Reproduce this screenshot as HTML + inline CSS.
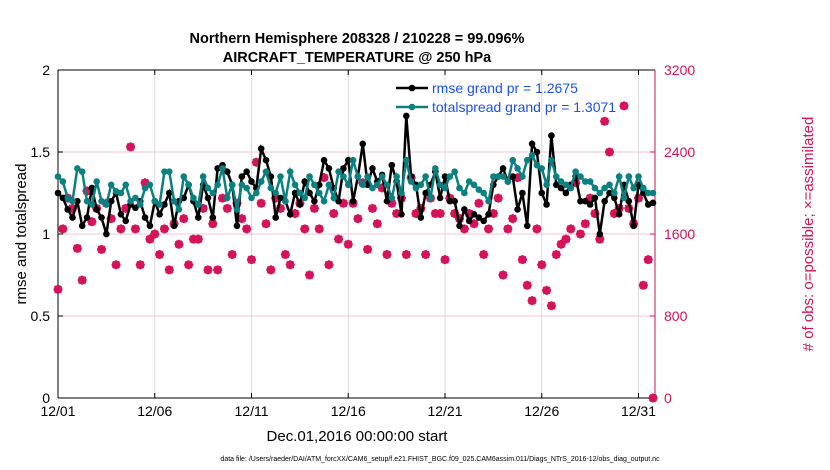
<!DOCTYPE html>
<html><head><meta charset="utf-8"><style>
body{margin:0;background:#fff;}
svg{display:block;font-family:"Liberation Sans",sans-serif;}
</style></head><body>
<svg id="chart" width="830" height="470">
<text x="357" y="43" text-anchor="middle" font-size="14.5" font-weight="bold">Northern Hemisphere 208328 / 210228 = 99.096%</text>
<text x="357" y="62" text-anchor="middle" font-size="14.5" font-weight="bold">AIRCRAFT_TEMPERATURE @ 250 hPa</text>
<g id="grid"></g>
<g id="axes"></g>
<g id="marks"></g>
<text transform="translate(26,234) rotate(-90)" text-anchor="middle" font-size="15">rmse and totalspread</text>
<text transform="translate(813,234) rotate(-90)" text-anchor="middle" font-size="15" fill="#d6125a"># of obs: o=possible; ×=assimilated</text>
<text x="357" y="441" text-anchor="middle" font-size="15">Dec.01,2016 00:00:00 start</text>
<text x="440" y="461" text-anchor="middle" font-size="7">data file: /Users/raeder/DAI/ATM_forcXX/CAM6_setup/f.e21.FHIST_BGC.f09_025.CAM6assim.011/Diags_NTrS_2016-12/obs_diag_output.nc</text>
</svg>
<script>
const xTickLabels=["12/01","12/06","12/11","12/16","12/21","12/26","12/31"];
const xTickDays=[0,5,10,15,20,25,30];
const yTicks=[0,0.5,1,1.5,2];
const y2Ticks=[0,800,1600,2400,3200];
const rmse=[1.25,1.22,1.15,1.1,1.2,1.05,1.1,1.28,1.15,1.1,1.0,1.2,1.25,1.12,1.08,1.18,1.16,1.2,1.1,1.05,1.2,1.12,1.18,1.25,1.05,1.2,1.22,1.3,1.2,1.1,1.3,1.22,1.1,1.4,1.42,1.38,1.3,1.05,1.35,1.38,1.32,1.28,1.52,1.45,1.35,1.1,1.22,1.2,1.12,1.25,1.18,1.32,1.25,1.2,1.3,1.45,1.4,1.28,1.2,1.4,1.45,1.2,1.35,1.55,1.3,1.4,1.32,1.36,1.2,1.42,1.32,1.12,1.72,1.35,1.3,1.1,1.25,1.3,1.38,1.22,1.35,1.2,1.2,1.05,1.15,1.08,1.12,1.1,1.08,1.12,1.3,1.35,1.4,1.32,1.35,1.15,1.25,1.05,1.55,1.5,1.25,1.18,1.6,1.3,1.28,1.25,1.3,1.35,1.2,1.2,1.18,1.22,1.0,1.2,1.25,1.22,1.12,1.3,1.2,1.05,1.3,1.25,1.18,1.19];
const spread=[1.35,1.32,1.22,1.2,1.4,1.38,1.2,1.18,1.32,1.2,1.18,1.3,1.26,1.25,1.3,1.2,1.22,1.18,1.28,1.3,1.2,1.18,1.38,1.38,1.2,1.15,1.35,1.3,1.22,1.18,1.35,1.28,1.25,1.3,1.4,1.22,1.3,1.15,1.3,1.28,1.22,1.25,1.32,1.38,1.28,1.25,1.35,1.2,1.38,1.3,1.25,1.22,1.35,1.3,1.25,1.2,1.3,1.22,1.38,1.35,1.3,1.45,1.35,1.3,1.35,1.28,1.3,1.35,1.3,1.22,1.35,1.25,1.45,1.32,1.28,1.3,1.35,1.22,1.4,1.3,1.28,1.35,1.38,1.28,1.25,1.32,1.3,1.27,1.25,1.2,1.35,1.35,1.35,1.32,1.45,1.4,1.35,1.45,1.48,1.42,1.4,1.3,1.45,1.35,1.32,1.3,1.28,1.38,1.35,1.32,1.32,1.28,1.25,1.28,1.3,1.25,1.35,1.22,1.35,1.28,1.35,1.28,1.25,1.25];
const obsCount=[1060,1650,1950,1850,1460,1150,2020,1720,1850,1450,1900,1750,1300,1650,1850,2450,1650,1300,2100,1550,1600,1400,1650,1250,1700,1500,1750,1300,1550,1550,1850,1250,1700,1250,1950,1850,1400,1900,1750,1650,1350,2300,1900,1700,1250,1950,1850,1400,1300,1800,1900,1650,1200,1850,1650,2150,1300,1800,1550,1900,1500,1900,1750,2100,1450,1850,1700,2050,1400,1900,1800,1950,1400,2150,1800,1850,1400,1950,1800,1800,1350,1950,1800,1750,1650,1800,1700,1900,1400,1650,1800,1950,1200,1650,1750,2150,1350,1100,950,1650,1300,1050,900,1400,1500,1550,1650,2100,1600,1700,1950,1800,1550,2700,2400,1800,1850,2850,1850,1700,1950,1100,1350,0];
const stepDays=0.25;
const L=58,R=655,T=70,B=398;
const xs=d=>L+d*19.35;
const ys=v=>B-(v/2)*(B-T);
const ys2=v=>B-(v/3200)*(B-T);
const NS="http://www.w3.org/2000/svg";
function mk(tag,attrs,parent){const e=document.createElementNS(NS,tag);for(const k in attrs)e.setAttribute(k,attrs[k]);parent.appendChild(e);return e;}
const grid=document.getElementById('grid'),axes=document.getElementById('axes'),marks=document.getElementById('marks');
xTickDays.forEach((d,i)=>{
 const gl=mk('line',{x1:xs(d),x2:xs(d),y1:T,y2:B,stroke:'#dcdcdc','stroke-width':1},grid);
 
 
 const t=mk('text',{x:xs(d),y:B+18,'text-anchor':'middle','font-size':14},axes);
 t.textContent=xTickLabels[i];
 
 
 mk('line',{x1:xs(d),x2:xs(d),y1:B,y2:B-5,stroke:'#000'},axes);
 mk('line',{x1:xs(d),x2:xs(d),y1:T,y2:T+5,stroke:'#000'},axes);
});
yTicks.forEach(v=>{
 if(v>0&&v<2){const gl=mk('line',{x1:L,x2:R,y1:ys(v),y2:ys(v),stroke:'#f6c6d8','stroke-width':1},grid);
 
 }
 const t=mk('text',{x:L-8,y:ys(v)+5,'text-anchor':'end','font-size':14},axes);
 t.textContent=String(v);
 
 
 mk('line',{x1:L,x2:L+5,y1:ys(v),y2:ys(v),stroke:'#000'},axes);
});
y2Ticks.forEach(v=>{
 const t=mk('text',{x:R+9,y:ys2(v)+5,'font-size':14,fill:'#d6125a'},axes);
 t.textContent=String(v);
 
 
 mk('line',{x1:R,x2:R-5,y1:ys2(v),y2:ys2(v),stroke:'#d6125a'},axes);
});
mk('line',{x1:L,x2:R,y1:T,y2:T,stroke:'#000'},axes);
mk('line',{x1:L,x2:R,y1:B,y2:B,stroke:'#000'},axes);
mk('line',{x1:L,x2:L,y1:T,y2:B,stroke:'#000'},axes);
mk('line',{x1:R,x2:R,y1:T,y2:B,stroke:'#d6125a'},axes);
obsCount.forEach((c,i)=>{
 const x=xs(i*stepDays),y=ys2(c);
 const g=mk('g',{stroke:'#d6125a','stroke-width':2,fill:'none'},marks);
 
 
 mk('circle',{cx:x,cy:y,r:3.3},g);
 mk('path',{d:`M${x-4.5} ${y}H${x+4.5}M${x} ${y-4.5}V${y+4.5}M${x-3.3} ${y-3.3}L${x+3.3} ${y+3.3}M${x-3.3} ${y+3.3}L${x+3.3} ${y-3.3}`},g);
});
function series(arr,color,name){
 const pts=arr.map((v,i)=>xs(i*stepDays).toFixed(1)+','+ys(v).toFixed(1)).join(' ');
 const pl=mk('polyline',{points:pts,fill:'none',stroke:color,'stroke-width':2.5},marks);
 
 
 arr.forEach((v,i)=>{
  const c=mk('circle',{cx:xs(i*stepDays),cy:ys(v),r:3.3,fill:color},marks);
  
  
 });
}
series(rmse,'#000','rmse');
series(spread,'#0a8080','totalspread');
const lg=mk('g',{},marks);


[['#000','rmse grand pr = 1.2675',93],['#0a8080','totalspread grand pr = 1.3071',112]].forEach(([c,t,y])=>{
 mk('line',{x1:396,x2:428,y1:y-5,y2:y-5,stroke:c,'stroke-width':2.5},lg);
 mk('circle',{cx:412,cy:y-5,r:3.3,fill:c},lg);
 const tx=mk('text',{x:432,y:y,'font-size':14,fill:'#1b50f0'},lg);
 tx.textContent=t;
 
 
});
</script>
</body></html>
